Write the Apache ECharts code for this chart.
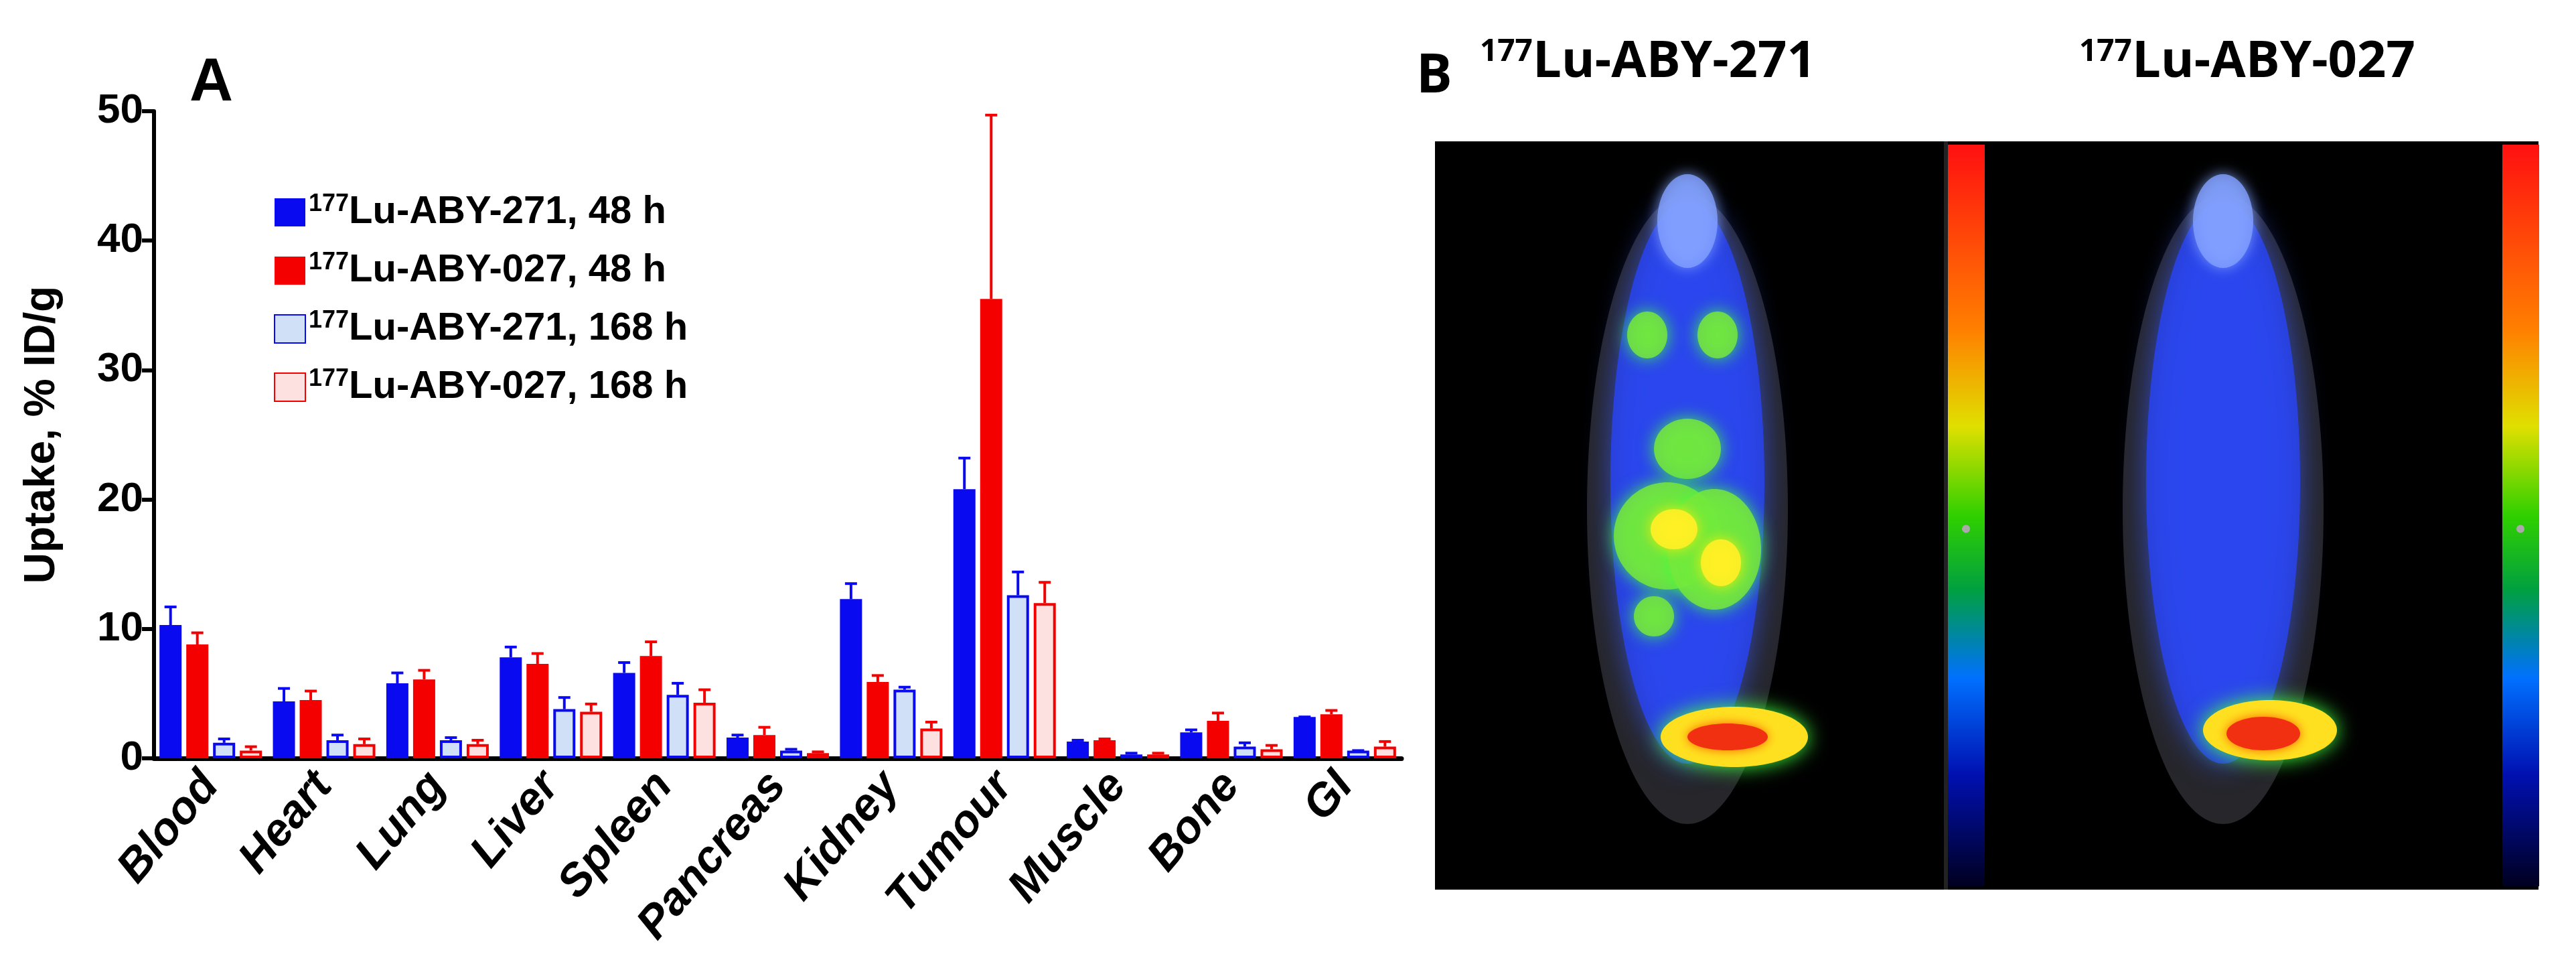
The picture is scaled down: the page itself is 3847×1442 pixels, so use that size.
<!DOCTYPE html>
<html><head><meta charset="utf-8">
<script src="https://cdn.jsdelivr.net/npm/echarts@6/dist/echarts.min.js"></script>
<style>html,body{margin:0;padding:0;background:#fff}#c{width:3847px;height:1442px}</style>
</head><body><div id="c"></div>
<script>
const categories = ['Blood','Heart','Lung','Liver','Spleen','Pancreas','Kidney','Tumour','Muscle','Bone','GI'];
const seriesNames = ['Lu-ABY-271, 48 h','Lu-ABY-027, 48 h','Lu-ABY-271, 168 h','Lu-ABY-027, 168 h'];
const aby271_48 = [10.3,4.4,5.8,7.8,6.6,1.6,12.3,20.8,1.3,2.0,3.2];
const aby027_48 = [8.8,4.5,6.1,7.3,7.9,1.8,5.9,35.5,1.4,2.9,3.4];
const aby271_168 = [1.2,1.4,1.4,3.8,4.9,0.6,5.3,12.6,0.3,0.9,0.6];
const aby027_168 = [0.6,1.1,1.1,3.6,4.3,0.4,2.3,12.0,0.3,0.7,0.9];
const err271_48 = [11.7,5.4,6.6,8.6,7.4,1.8,13.5,23.2,1.4,2.2,3.2];
const err027_48 = [9.7,5.2,6.8,8.1,9.0,2.4,6.4,49.7,1.5,3.5,3.7];
const err271_168 = [1.5,1.8,1.6,4.7,5.8,0.7,5.5,14.4,0.4,1.2,0.6];
const err027_168 = [0.9,1.5,1.4,4.2,5.3,0.5,2.8,13.6,0.4,1.0,1.3];
const yTicks = [0,10,20,30,40,50];

const vals = [aby271_48,aby027_48,aby271_168,aby027_168];
const errs = [err271_48,err027_48,err271_168,err027_168];
const fills = ['#0a0af0','#f40000','#cfe0f7','#fde0e0'];
const strokes = ['#0a0af0','#f40000','#0a0af0','#f40000'];
const BW = 33, STEP = 40;
const FN = '"Liberation Sans Narrow","Liberation Sans",Arial,sans-serif';

const chart = echarts.init(document.getElementById('c'));
const series = [];
vals.forEach((v,i)=>{
  series.push({type:'bar',name:seriesNames[i],data:v,barWidth:BW,barGap:((STEP-BW)/BW*100)+'%',
    itemStyle:{color:fills[i],borderColor:strokes[i],borderWidth:i>=2?4:0}});
});
vals.forEach((v,i)=>{
  series.push({type:'custom',name:seriesNames[i]+' err',z:1,silent:true,
    data:v.map((y,k)=>[k,y,errs[i][k]]),
    renderItem:(params,api)=>{
      const k=api.value(0);
      const p0=api.coord([k,api.value(1)]), p1=api.coord([k,api.value(2)]);
      const x=p0[0]+(i-1.5)*STEP;
      const st={stroke:strokes[i],lineWidth:4};
      return {type:'group',children:[
        {type:'line',shape:{x1:x,y1:p0[1],x2:x,y2:p1[1]},style:st},
        {type:'line',shape:{x1:x-9,y1:p1[1],x2:x+9,y2:p1[1]},style:st}]};
    }});
});

const L1=2143, R=3791, T=211, B=1328, MID=2906;
function mouse(cx, hot){
  const g=[];
  g.push({type:'ellipse',shape:{cx:cx,cy:760,rx:150,ry:470},style:{fill:'rgba(150,150,170,0.25)'}});
  g.push({type:'ellipse',shape:{cx:cx,cy:720,rx:115,ry:420},style:{fill:'rgba(40,70,255,0.75)',shadowBlur:40,shadowColor:'rgba(60,90,255,0.9)'}});
  g.push({type:'ellipse',shape:{cx:cx,cy:330,rx:45,ry:70},style:{fill:'rgba(130,160,255,0.8)',shadowBlur:20,shadowColor:'#88aaff'}});
  if(hot){
    [[cx-60,500,30,35],[cx+45,500,30,35],[cx,670,50,45],[cx-30,800,80,80],[cx+40,820,70,90],[cx-50,920,30,30]].forEach(e=>
      g.push({type:'ellipse',shape:{cx:e[0],cy:e[1],rx:e[2],ry:e[3]},style:{fill:'rgba(120,230,60,0.85)',shadowBlur:25,shadowColor:'#40ff40'}}));
    [[cx-20,790,35,30],[cx+50,840,30,35]].forEach(e=>
      g.push({type:'ellipse',shape:{cx:e[0],cy:e[1],rx:e[2],ry:e[3]},style:{fill:'rgba(255,240,40,0.9)',shadowBlur:20,shadowColor:'#ffee00'}}));
    g.push({type:'ellipse',shape:{cx:cx+70,cy:1100,rx:110,ry:45},style:{fill:'#ffe020',shadowBlur:30,shadowColor:'#40ff40'}});
    g.push({type:'ellipse',shape:{cx:cx+60,cy:1100,rx:60,ry:20},style:{fill:'#f03010',shadowBlur:15,shadowColor:'#ff6000'}});
  } else {
    g.push({type:'ellipse',shape:{cx:cx+70,cy:1090,rx:100,ry:45},style:{fill:'#ffe020',shadowBlur:30,shadowColor:'#40ff40'}});
    g.push({type:'ellipse',shape:{cx:cx+60,cy:1095,rx:55,ry:25},style:{fill:'#f03010',shadowBlur:15,shadowColor:'#ff6000'}});
  }
  return g;
}
function cbar(x){
  return [{type:'rect',shape:{x:x,y:T+5,width:55,height:B-T-10},style:{fill:new echarts.graphic.LinearGradient(0,0,0,1,[
    {offset:0,color:'#ff1010'},{offset:0.25,color:'#ff8000'},{offset:0.38,color:'#e0e000'},{offset:0.5,color:'#30d000'},{offset:0.6,color:'#00a040'},{offset:0.72,color:'#0070ff'},{offset:0.85,color:'#0010b0'},{offset:1,color:'#000020'}])}},
    {type:'circle',shape:{cx:x+27,cy:(T+B)/2+20,r:6},style:{fill:'#aaa'}}];
}
const titleRich={sup:{fontSize:46,fontWeight:'bold',fontFamily:'"Open Sans",sans-serif',verticalAlign:'top',padding:[0,0,30,0]},
  t:{fontSize:76,fontWeight:'bold',fontFamily:'"Open Sans",sans-serif'}};
const graphic=[
  {type:'text',left:283,top:80,style:{text:'A',font:'bold 90px Arial, sans-serif',fill:'#000'}},
  {type:'rect',shape:{x:L1,y:T,width:R-L1,height:B-T},style:{fill:'#000'}},
  ...mouse(2520,true),...mouse(3320,false),
  {type:'rect',shape:{x:MID-3,y:T,width:6,height:B-T},style:{fill:'#222'}},
  ...cbar(2909),...cbar(3737),
  {type:'text',left:2115,top:75,style:{text:'B',font:'bold 80px "Open Sans",sans-serif',fill:'#000'}},
  {type:'text',left:2210,top:55,style:{rich:titleRich,text:'{sup|177}{t|Lu-ABY-271}',fill:'#000'}},
  {type:'text',left:3105,top:55,style:{rich:titleRich,text:'{sup|177}{t|Lu-ABY-027}',fill:'#000'}}
];

chart.setOption({
  animation:false,
  graphic:graphic,
  legend:{data:seriesNames.map(n=>({name:n,icon:'rect'})),orient:'vertical',left:404,top:282,itemWidth:46,itemHeight:42,itemGap:28,
    formatter:n=>'{s|177}{t|'+n+'}',
    textStyle:{color:'#000',rich:{s:{fontSize:36,fontWeight:'bold',fontFamily:FN,color:'#000',verticalAlign:'top',padding:[0,0,24,0]},t:{fontSize:58,fontWeight:'bold',fontFamily:FN,color:'#000'}}}},
  grid:{left:230,top:166,width:1863,height:966},
  xAxis:{type:'category',data:categories,
    axisLine:{lineStyle:{color:'#000',width:7}},
    axisTick:{alignWithLabel:true,length:22,lineStyle:{width:5,color:'#000'}},
    axisLabel:{rotate:50,fontSize:68,fontWeight:'bold',fontStyle:'italic',fontFamily:'Arial, "Liberation Sans", sans-serif',color:'#000',margin:30}},
  yAxis:{type:'value',min:0,max:50,interval:10,
    name:'Uptake, % ID/g',nameLocation:'middle',nameGap:135,
    nameTextStyle:{fontSize:64,fontWeight:'bold',fontFamily:'Arial, sans-serif',color:'#000'},
    axisLine:{show:true,lineStyle:{color:'#000',width:6}},
    axisTick:{show:true,length:18,lineStyle:{width:6,color:'#000'}},
    splitLine:{show:false},
    axisLabel:{fontSize:62,fontWeight:'bold',fontFamily:FN,color:'#000',margin:16,
      formatter:v=>yTicks.includes(v)?String(v):''}},
  series:series
});
</script></body></html>
